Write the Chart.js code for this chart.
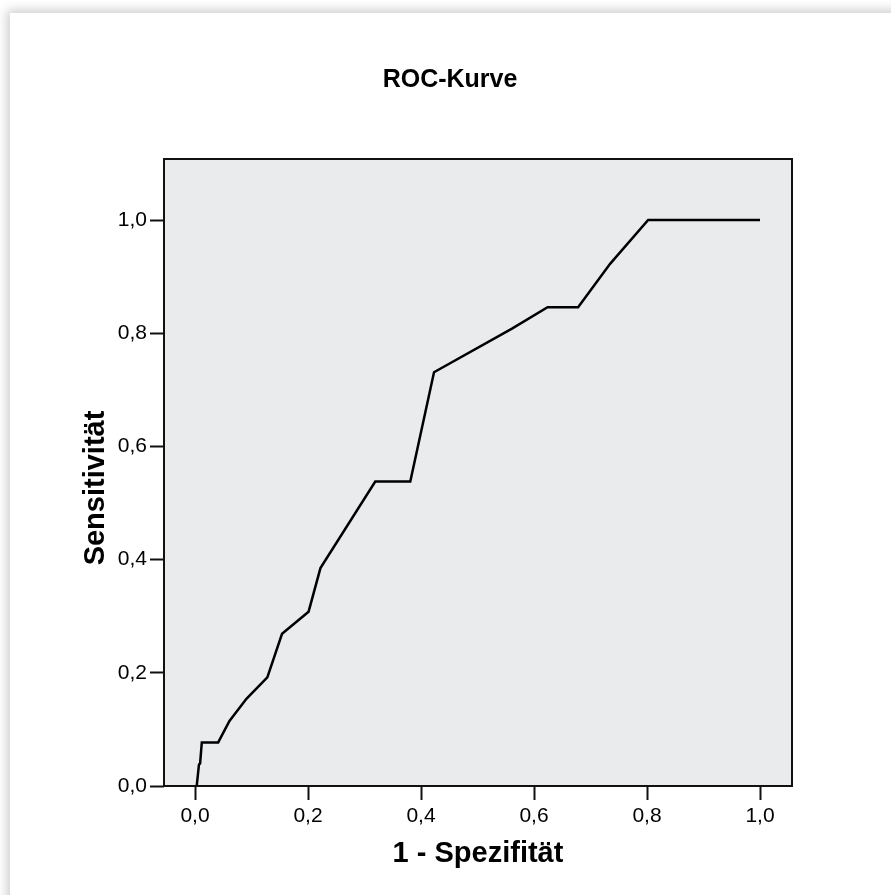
<!DOCTYPE html>
<html lang="de">
<head>
    <meta charset="UTF-8">
    <title>ROC-Kurve</title>
    <script src="https://cdn.jsdelivr.net/npm/chart.js@4.4.1/dist/chart.umd.min.js"></script>
    <style>
        html, body {
            margin: 0;
            padding: 0;
            background: #ffffff;
            overflow: hidden;
        }
        .page {
            position: absolute;
            left: 10px;
            top: 13px;
            width: 920px;
            height: 920px;
            background: #ffffff;
            box-shadow: 0 0 10px 3px rgba(0, 0, 0, 0.2);
        }
        #roc {
            position: absolute;
            left: 0;
            top: 0;
        }
    </style>
</head>
<body>
    <div class="page"></div>
    <canvas id="roc" width="891" height="895"></canvas>

    <script>
        // ROC-Kurve: 1 - Spezifität (x) gegen Sensitivität (y)
        const falsePositive = [0.003, 0.007, 0.009, 0.012, 0.041, 0.061, 0.091, 0.128, 0.154, 0.201,
                               0.222, 0.319, 0.381, 0.423, 0.561, 0.624, 0.678, 0.735, 0.802, 1.0];
        const sensitivity   = [0.0, 0.038, 0.040, 0.077, 0.077, 0.115, 0.154, 0.192, 0.269, 0.308,
                               0.385, 0.538, 0.538, 0.731, 0.808, 0.846, 0.846, 0.923, 1.0, 1.0];
        const xTicks = [0, 0.2, 0.4, 0.6, 0.8, 1.0];
        const yTicks = [0, 0.2, 0.4, 0.6, 0.8, 1.0];

        const points = falsePositive.map((x, i) => ({ x: x, y: sensitivity[i] }));
        const fmt = v => Number(v).toFixed(1).replace('.', ',');
        const fontFamily = "'Liberation Sans', Arial, sans-serif";

        // grauer Hintergrund + Rahmen der Plotfläche, y-Achsentitel
        const plotFrame = {
            id: 'plotFrame',
            beforeDraw(chart) {
                const a = chart.chartArea;
                const ctx = chart.ctx;
                ctx.save();
                ctx.fillStyle = '#eaebed';
                ctx.fillRect(a.left, a.top, a.right - a.left, a.bottom - a.top);
                ctx.restore();
            },
            afterDraw(chart) {
                const a = chart.chartArea;
                const ctx = chart.ctx;
                ctx.save();
                ctx.strokeStyle = '#111111';
                ctx.lineWidth = 2;
                ctx.strokeRect(a.left, a.top, a.right - a.left, a.bottom - a.top);

                ctx.translate(96, 488);
                ctx.rotate(-Math.PI / 2);
                ctx.fillStyle = '#000000';
                ctx.font = 'bold 29px ' + fontFamily;
                ctx.textAlign = 'center';
                ctx.textBaseline = 'middle';
                ctx.fillText('Sensitivität', 0, 0);
                ctx.restore();
            }
        };

        const ctx = document.getElementById('roc').getContext('2d');
        const rocChart = new Chart(ctx, {
            type: 'line',
            data: {
                datasets: [{
                    data: points,
                    borderColor: '#000000',
                    borderWidth: 2.5,
                    pointRadius: 0,
                    tension: 0,
                    fill: false
                }]
            },
            options: {
                responsive: false,
                animation: false,
                layout: {
                    padding: { left: 108, right: 99, top: 0, bottom: 0 }
                },
                plugins: {
                    legend: { display: false },
                    tooltip: { enabled: false },
                    title: {
                        display: true,
                        text: 'ROC-Kurve',
                        color: '#000000',
                        font: { family: fontFamily, size: 25, weight: 'bold' },
                        padding: { top: 65, bottom: 64 }
                    }
                },
                scales: {
                    x: {
                        type: 'linear',
                        min: -0.0549,
                        max: 1.0566,
                        afterBuildTicks: s => { s.ticks = xTicks.map(v => ({ value: v })); },
                        afterFit: s => { s.height = 109; },
                        border: { display: false },
                        grid: {
                            drawOnChartArea: false,
                            drawTicks: true,
                            tickLength: 14,
                            tickWidth: 2,
                            tickColor: '#111111'
                        },
                        ticks: {
                            color: '#000000',
                            padding: 4,
                            maxRotation: 0,
                            font: { family: fontFamily, size: 21 },
                            callback: v => fmt(v)
                        },
                        title: {
                            display: true,
                            text: '1 - Spezifität',
                            color: '#000000',
                            font: { family: fontFamily, size: 29, weight: 'bold' },
                            padding: { top: 0, bottom: 24 }
                        }
                    },
                    y: {
                        type: 'linear',
                        min: 0,
                        max: 1.1078,
                        afterBuildTicks: s => { s.ticks = yTicks.map(v => ({ value: v })); },
                        afterFit: s => { s.width = 56; },
                        border: { display: false },
                        grid: {
                            drawOnChartArea: false,
                            drawTicks: true,
                            tickLength: 14,
                            tickWidth: 2,
                            tickColor: '#111111'
                        },
                        ticks: {
                            color: '#000000',
                            padding: 3,
                            font: { family: fontFamily, size: 21 },
                            callback: v => fmt(v)
                        }
                    }
                }
            },
            plugins: [plotFrame]
        });
    </script>
</body>
</html>
